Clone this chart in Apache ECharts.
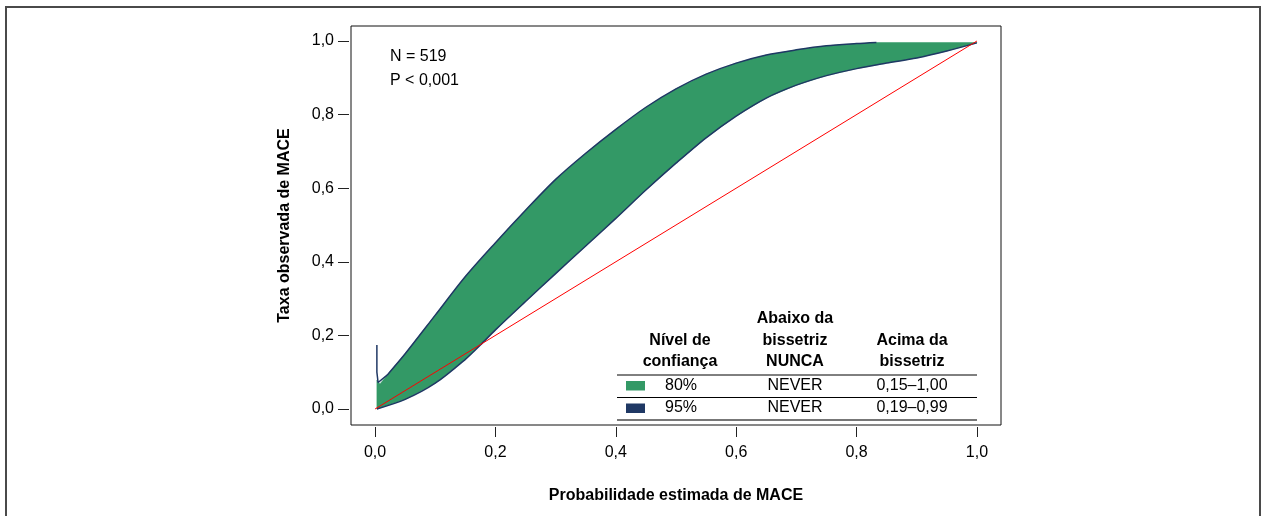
<!DOCTYPE html>
<html>
<head>
<meta charset="utf-8">
<script src="https://cdn.jsdelivr.net/npm/echarts@6/dist/echarts.min.js"></script>
<style>
html,body{margin:0;padding:0;background:#fff;}
#chart{width:1264px;height:516px;}
</style>
</head>
<body>
<div id="chart"></div>
<script>
// ---- data ----
var tickValues = [0, 0.2, 0.4, 0.6, 0.8, 1.0];
var xTitle = 'Probabilidade estimada de MACE';
var yTitle = 'Taxa observada de MACE';
var annotations = ['N = 519', 'P < 0,001'];

// 95% CI upper limit (navy line): initial spike + curve
var ci95UpperSpike = [[0.003,0.174],[0.003,0.10],[0.005,0.072],[0.008,0.068],[0.02,0.092]];
var ci95Upper = [[0.02,0.092],[0.05,0.15],[0.1,0.255],[0.15,0.36],[0.2,0.452],[0.25,0.54],[0.3,0.624],[0.35,0.695],[0.4,0.76],[0.45,0.82],[0.5,0.87],[0.55,0.91],[0.6,0.94],[0.65,0.962],[0.7,0.976],[0.75,0.987],[0.8,0.993],[0.833,0.996]];
// 95% CI lower limit (navy line)
var ci95Lower = [[0.003,0.0],[0.05,0.026],[0.1,0.07],[0.15,0.135],[0.175,0.174],[0.2,0.215],[0.25,0.292],[0.3,0.368],[0.35,0.443],[0.4,0.518],[0.45,0.595],[0.5,0.668],[0.55,0.737],[0.6,0.796],[0.65,0.845],[0.7,0.88],[0.75,0.906],[0.8,0.925],[0.85,0.94],[0.9,0.954],[0.95,0.973],[1.0,0.995]];
// 80% CI band (green)
var ci80Upper = [[0.003,0.079],[0.008,0.068],[0.02,0.092],[0.05,0.15],[0.1,0.255],[0.15,0.36],[0.2,0.452],[0.25,0.54],[0.3,0.624],[0.35,0.695],[0.4,0.76],[0.45,0.82],[0.5,0.87],[0.55,0.91],[0.6,0.94],[0.65,0.962],[0.7,0.976],[0.75,0.987],[0.8,0.993],[0.833,0.996],[1.0,0.996]];
var ci80Lower = ci95Lower;
// bisector
var bisector = [[0,0],[1,1]];

// legend table
var tableHeader = [['Nível de','confiança'], ['Abaixo da','bissetriz','NUNCA'], ['Acima da','bissetriz']];
var tableRows = [['80%','NEVER','0,15–1,00'], ['95%','NEVER','0,19–0,99']];
var rowColors = ['#339966', '#1f3864'];

var GREEN = '#339966', NAVY = '#1f3864';
var FONT = "'Liberation Sans', Arial, sans-serif";

var chart = echarts.init(document.getElementById('chart'), null, {renderer:'canvas'});

function fmt(v){ return v.toFixed(1).replace('.', ','); }

// graphic elements
var graphics = [];
graphics.push({type:'rect', shape:{x:6, y:7, width:1254, height:530}, style:{fill:'none', stroke:'#4a4a4a', lineWidth:2}, silent:true, z:0});
annotations.forEach(function(t,i){
  graphics.push({type:'text', style:{text:t, x:390, y:56.5 + i*24.5, fill:'#000', font:'16px ' + FONT, verticalAlign:'middle', align:'left'}, z:10});
});
var colX = [680, 795, 912];
var lineH = 21.7;
var headerBottom = 362;
tableHeader.forEach(function(lines, c){
  var n = lines.length;
  lines.forEach(function(t, k){
    graphics.push({type:'text', style:{text:t, x:colX[c], y:headerBottom - (n-1-k)*lineH, fill:'#000', font:'bold 16px ' + FONT, align:'center', verticalAlign:'middle'}, z:10});
  });
});
var rowY = [385.5, 408];
tableRows.forEach(function(row, r){
  graphics.push({type:'rect', shape:{x:626, y:rowY[r]-4.5, width:19, height:9.5}, style:{fill:rowColors[r]}, z:10});
  row.forEach(function(t, c){
    graphics.push({type:'text', style:{text:t, x:colX[c]+ (c===0?1:0), y:rowY[r], fill:'#000', font:'16px ' + FONT, align:'center', verticalAlign:'middle'}, z:10});
  });
});
graphics.push({type:'line', shape:{x1:617, y1:375, x2:977, y2:375}, style:{stroke:'#000', lineWidth:1}, z:10});
graphics.push({type:'line', shape:{x1:617, y1:397.5, x2:977, y2:397.5}, style:{stroke:'#000', lineWidth:1}, z:10});
graphics.push({type:'line', shape:{x1:617, y1:420, x2:977, y2:420}, style:{stroke:'#777', lineWidth:2}, z:10});

var option = {
  backgroundColor:'#fff',
  animation:false,
  grid:{left:351, top:26, width:650, height:399, show:true, borderColor:'#111', borderWidth:1, backgroundColor:'transparent'},
  xAxis:{
    type:'value', min:-0.04, max:1.04, position:'bottom', offset:2,
    axisLine:{show:true, onZero:false, lineStyle:{color:'rgba(0,0,0,0)'}}, splitLine:{show:false},
    axisTick:{show:true, inside:false, length:10, customValues:tickValues, lineStyle:{color:'#222', width:1}},
    axisLabel:{customValues:tickValues, formatter:fmt, color:'#000', fontSize:16, fontFamily:FONT, margin:18},
    name:xTitle, nameLocation:'middle', nameGap:61,
    nameTextStyle:{fontSize:16, fontWeight:'bold', color:'#000', fontFamily:FONT}
  },
  yAxis:{
    type:'value', min:-0.0435, max:1.0408, position:'left', offset:2,
    axisLine:{show:true, onZero:false, lineStyle:{color:'rgba(0,0,0,0)'}}, splitLine:{show:false},
    axisTick:{show:true, inside:false, length:11, customValues:tickValues, lineStyle:{color:'#222', width:1}},
    axisLabel:{customValues:tickValues, formatter:fmt, color:'#000', fontSize:16, fontFamily:FONT, margin:15},
    name:yTitle, nameLocation:'middle', nameGap:56, nameRotate:90,
    nameTextStyle:{fontSize:16, fontWeight:'bold', color:'#000', fontFamily:FONT}
  },
  graphic:graphics,
  series:[
    {
      type:'custom', name:'80%', data:[0], z:2,
      renderItem:function(params, api){
        var pts = [];
        ci80Upper.forEach(function(p){ pts.push(api.coord(p)); });
        for (var i = ci80Lower.length-1; i >= 0; i--) pts.push(api.coord(ci80Lower[i]));
        return {type:'polygon', shape:{points:pts}, style:{fill:GREEN, stroke:GREEN, lineWidth:0.5}};
      }
    },
    {type:'line', name:'95% sup a', data:ci95UpperSpike, showSymbol:false, z:3, lineStyle:{color:NAVY, width:1.5}},
    {type:'line', name:'95% sup', data:ci95Upper, showSymbol:false, smooth:0.3, z:3, lineStyle:{color:NAVY, width:1.5}},
    {type:'line', name:'95% inf', data:ci95Lower, showSymbol:false, smooth:0.3, z:3, lineStyle:{color:NAVY, width:1.5}},
    {type:'line', name:'bissetriz', data:bisector, showSymbol:false, z:4, lineStyle:{color:'#ff0000', width:1}}
  ]
};
chart.setOption(option);
</script>
</body>
</html>
